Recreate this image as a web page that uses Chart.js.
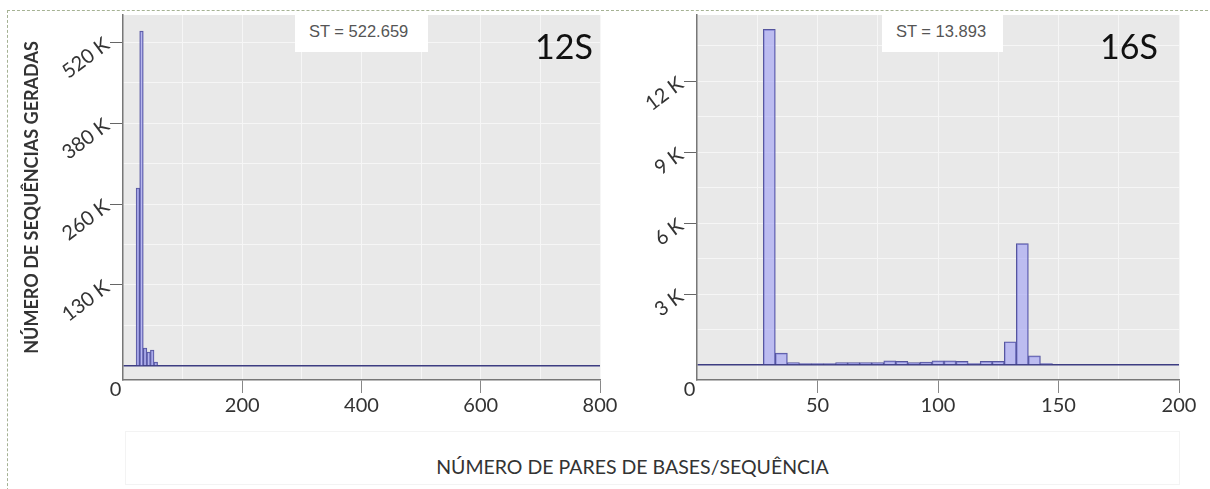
<!DOCTYPE html>
<html>
<head>
<meta charset="utf-8">
<script src="https://cdn.jsdelivr.net/npm/chart.js@4.4.1/dist/chart.umd.min.js"></script>
<style>
  body { margin: 0; background: #fff; }
  #page { position: relative; width: 1210px; height: 489px; overflow: hidden; font-family: Lato, sans-serif; }
  #frame { position: absolute; left: 7px; top: 10px; width: 1220px; height: 500px;
           border-top: 1px dashed #a5b294; border-left: 1px dashed #a5b294; }
  canvas { position: absolute; top: 0; }
  .st { position: absolute; top: 15px; height: 37px; background: #fff; color: #555;
        font: 16.5px "Liberation Sans", Arial, sans-serif; box-sizing: border-box; padding: 7px 0 0 14px; }
  .tag { position: absolute; top: 29px; font: 34px Lato, sans-serif; line-height: 34px; color: #111; }
  #xtitle { position: absolute; left: 125px; top: 431px; width: 1055px; height: 54px; box-sizing: border-box;
            border: 1px solid #f3f3f3; padding-right: 40px; text-align: center;
            font: 19.5px Lato, sans-serif; color: #333; line-height: 70px; }
</style>
</head>
<body>
<div id="page">
  <div id="frame"></div>
  <canvas id="c12" width="632" height="430" style="left:0"></canvas>
  <canvas id="c16" width="595" height="430" style="left:615px"></canvas>
  <div class="st" style="left:295px;width:133px">ST = 522.659</div>
  <div class="st" style="left:882px;width:121px">ST = 13.893</div>
  <div class="tag" style="left:535px">12S</div>
  <div class="tag" style="left:1100px">16S</div>
  <div id="xtitle">NÚMERO DE PARES DE BASES/SEQUÊNCIA</div>
</div>
<script>
// 12S histogram (bin centre in bp, count)
const bins12S = [25, 31, 37, 43, 49, 55];
const counts12S = [285700, 537700, 28900, 22500, 25700, 6400];
const yTicks12S = [130000, 260000, 390000, 520000];
const yLabels12S = ['130 K', '260 K', '380 K', '520 K'];
const xTicks12S = [0, 200, 400, 600, 800];

// 16S histogram
const bins16S = [30, 35, 40, 45, 50, 55, 60, 65, 70, 75, 80, 85, 90, 95, 100, 105, 110, 115, 120, 125, 130, 135, 140, 145];
const counts16S = [14200, 500, 100, 50, 50, 50, 100, 100, 100, 100, 170, 150, 100, 120, 170, 170, 150, 50, 150, 150, 980, 5130, 380, 50];
const yTicks16S = [3000, 6000, 9000, 12000];
const yLabels16S = ['3 K', '6 K', '9 K', '12 K'];
const xTicks16S = [0, 50, 100, 150, 200];

const tickFont = { family: 'Lato', size: 20, lineHeight: 0.8 };

// grey plot background
const plotBg = {
    id: 'plotBg',
    beforeDraw(chart) {
        const a = chart.chartArea;
        const ctx = chart.ctx;
        ctx.save();
        ctx.fillStyle = '#e9e9e9';
        ctx.fillRect(a.left, a.top, a.right - a.left, a.bottom - a.top);
        ctx.restore();
    }
};

function makeChart(id, bins, counts, cfg) {
    const xStep = cfg.xTicks[1] / 2;
    const yStep = cfg.yTicks[0] / 2;
    return new Chart(document.getElementById(id), {
        type: 'bar',
        data: {
            datasets: [{
                data: bins.map((b, i) => ({ x: b, y: counts[i] })),
                backgroundColor: 'rgba(165,165,245,0.65)',
                borderColor: '#55559e',
                borderWidth: 1,
                barPercentage: 1,
                categoryPercentage: 1
            }]
        },
        options: {
            responsive: false,
            animation: false,
            layout: { padding: cfg.padding },
            plugins: { legend: { display: false }, tooltip: { enabled: false } },
            scales: {
                x: {
                    type: 'linear',
                    offset: false,
                    min: cfg.xTicks[0],
                    max: cfg.xTicks[cfg.xTicks.length - 1],
                    afterBuildTicks(scale) {
                        const t = [];
                        for (let v = scale.min; v <= scale.max; v += xStep) t.push({ value: v });
                        scale.ticks = t;
                    },
                    afterFit(scale) {
                        scale.height = 50;
                        scale.paddingLeft = 0;
                        scale.paddingRight = 0;
                    },
                    border: { color: '#777', width: 1.5 },
                    grid: {
                        offset: false,
                        color: (c) => (c.tick && c.tick.value === 0) ? 'rgba(0,0,0,0)' : '#f6f6f6',
                        tickColor: (c) => (c.tick && c.tick.value !== 0 && cfg.xTicks.includes(c.tick.value)) ? '#888' : 'rgba(0,0,0,0)',
                        tickLength: 13,
                        lineWidth: 1
                    },
                    ticks: {
                        autoSkip: false,
                        maxRotation: 0,
                        padding: -11,
                        color: '#333',
                        font: tickFont,
                        callback: (v) => v === 0 ? '0\u2003' : (cfg.xTicks.includes(v) ? ['', String(v)] : '')
                    }
                },
                y: {
                    min: cfg.yMin,
                    max: cfg.yMax,
                    afterBuildTicks(scale) {
                        const t = [];
                        const top = cfg.yTicks[cfg.yTicks.length - 1] + yStep;
                        for (let v = 0; v <= top && v <= scale.max; v += yStep) t.push({ value: v });
                        scale.ticks = t;
                    },
                    afterFit(scale) {
                        scale.width = cfg.yWidth;
                        scale.paddingTop = 0;
                        scale.paddingBottom = 0;
                    },
                    border: { color: '#777', width: 1.5 },
                    grid: {
                        color: (c) => (c.tick && c.tick.value === 0) ? '#3d3d82' : '#f6f6f6',
                        lineWidth: (c) => (c.tick && c.tick.value === 0) ? 1.5 : 1,
                        tickColor: (c) => (c.tick && cfg.yTicks.includes(c.tick.value)) ? '#666' : 'rgba(0,0,0,0)',
                        tickLength: 13
                    },
                    ticks: {
                        autoSkip: false,
                        minRotation: 37,
                        maxRotation: 37,
                        padding: 3,
                        color: '#333',
                        font: { family: 'Lato', size: 20 },
                        callback: (v) => {
                            const i = cfg.yTicks.indexOf(v);
                            return i >= 0 ? cfg.yLabels[i] : '';
                        }
                    },
                    title: cfg.yTitle ? {
                        display: true,
                        text: cfg.yTitle,
                        color: '#333',
                        font: { family: 'Lato', size: 18, weight: 'bold' },
                        padding: 0
                    } : { display: false }
                }
            }
        },
        plugins: [plotBg]
    });
}

makeChart('c12', bins12S, counts12S, {
    xTicks: xTicks12S, yTicks: yTicks12S, yLabels: yLabels12S,
    yMin: -22500, yMax: 563400, yWidth: 102,
    yTitle: 'NÚMERO DE SEQUÊNCIAS GERADAS',
    padding: { left: 21, top: 15, right: 32, bottom: 0 }
});

makeChart('c16', bins16S, counts16S, {
    xTicks: xTicks16S, yTicks: yTicks16S, yLabels: yLabels16S,
    yMin: -640, yMax: 14810, yWidth: 82,
    yTitle: null,
    padding: { left: 0, top: 15, right: 31, bottom: 0 }
});
</script>
</body>
</html>
